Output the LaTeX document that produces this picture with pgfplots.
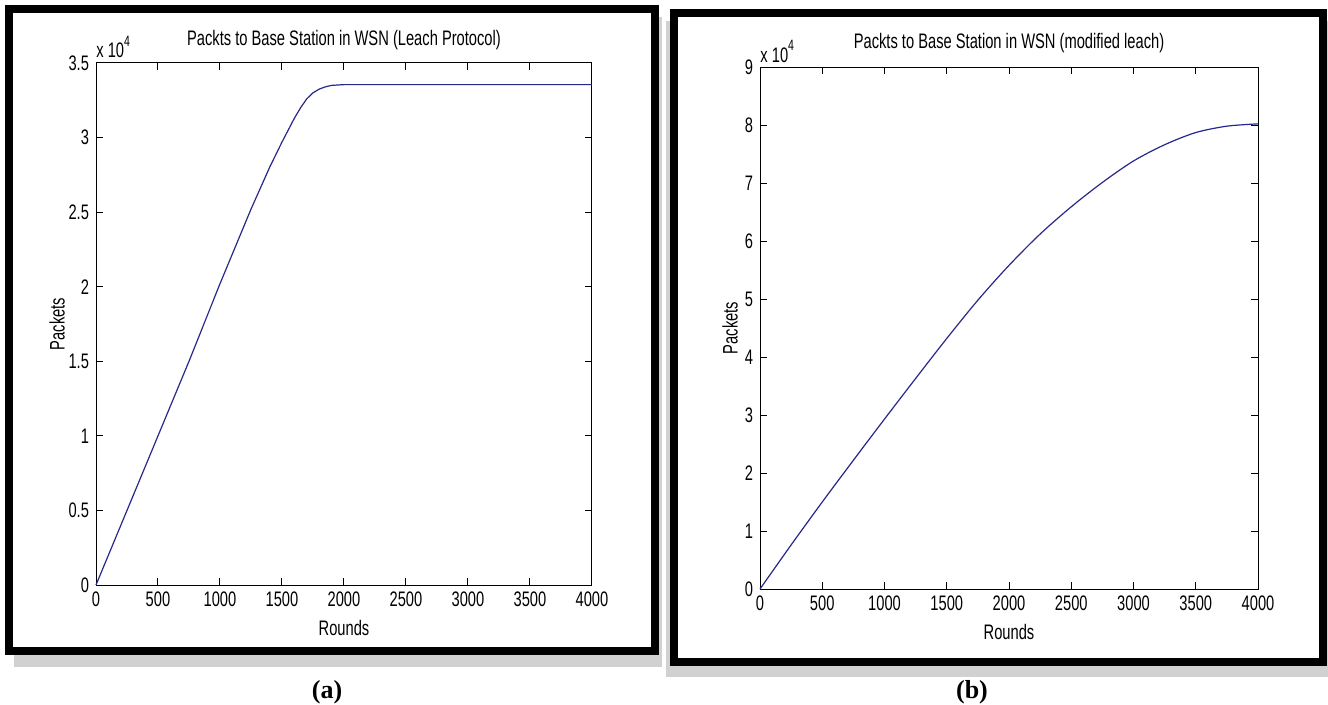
\documentclass[border=0pt]{standalone}
\usepackage{pgfplots}
\pgfplotsset{compat=1.18}
\usepackage{fontspec}
\setmainfont{Liberation Sans}
\newfontfamily\mfont[FakeStretch=0.7]{Liberation Sans}
\newfontfamily\tfont{Liberation Serif}
\definecolor{lineblue}{RGB}{40,40,140}
\pgfplotstableread{
r p
0 0
250 5000
500 10000
750 15000
1000 20200
1250 25200
1400 28000
1500 29700
1550 30500
1600 31300
1650 32000
1700 32600
1750 33000
1800 33250
1850 33400
1900 33500
2000 33550
4000 33550
}\leach
\pgfplotstableread{
r p
0 0
250 7600
500 15000
750 22200
1000 29300
1250 36300
1500 43200
1750 49800
2000 55800
2250 61200
2500 65900
2750 70100
3000 73800
3250 76600
3500 78700
3750 79800
4000 80200
}\modleach
\newcommand{\mf}{\mfont\fontsize{10.5bp}{12bp}\selectfont}
\pgfplotsset{mine/.style={
  scale only axis, clip=false,
  xmin=0, xmax=4000,
  xtick={0,500,1000,1500,2000,2500,3000,3500,4000},
  xticklabels={0,500,1000,1500,2000,2500,3000,3500,4000},
  tick align=inside, major tick length=3.5bp,
  tick style={black, line width=0.5bp},
  axis line style={black, line width=0.5bp},
  tick label style={font=\mf},
  scaled y ticks=false,
}}
\begin{document}
\begin{tikzpicture}
\path[use as bounding box] (0,0) rectangle (664bp,352.5bp);
\fill[white] (0,0) rectangle (664bp,352.5bp);
% shadows
\fill[black!18] (7bp,19bp) rectangle (331bp,344bp);
\fill[black!18] (333bp,14bp) rectangle (664bp,342bp);
\fill[white] (4.5bp,27bp) rectangle (327.5bp,348bp);
\fill[white] (337bp,21.25bp) rectangle (661.25bp,346bp);
\draw[line width=4bp] (4.5bp,27bp) rectangle (327.5bp,348bp);
\draw[line width=4bp] (337bp,21.25bp) rectangle (661.25bp,346bp);

\begin{axis}[mine, at={(48bp,60bp)}, anchor=south west, width=248bp, height=261bp,
  ymin=0, ymax=35000,
  ytick={0,5000,10000,15000,20000,25000,30000,35000},
  yticklabels={0,0.5,1,1.5,2,2.5,3,3.5}]
\addplot[lineblue, line width=0.6bp] table[x=r,y=p] {\leach};
\node[font=\mf] at (rel axis cs:0.5,1) [yshift=11.5bp] {Packts to Base Station in WSN (Leach Protocol)};
\node[font=\mf] at (rel axis cs:0.5,0) [yshift=-21.5bp] {Rounds};
\node[font=\mf, xshift=-19.5bp, rotate=90] at (rel axis cs:0,0.5) {Packets};
\node[font=\mf, anchor=base west, inner sep=0pt] at (rel axis cs:0,1) [yshift=2.5bp] {x 10\raisebox{0.55em}{\mfont\fontsize{7.5bp}{8bp}\selectfont 4}};
\end{axis}

\begin{axis}[mine, at={(380bp,58bp)}, anchor=south west, width=249bp, height=261bp,
  ymin=0, ymax=90000,
  ytick={0,10000,20000,30000,40000,50000,60000,70000,80000,90000},
  yticklabels={0,1,2,3,4,5,6,7,8,9}]
\addplot[lineblue, line width=0.6bp, smooth] table[x=r,y=p] {\modleach};
\node[font=\mf] at (rel axis cs:0.5,1) [yshift=12bp] {Packts to Base Station in WSN (modified leach)};
\node[font=\mf] at (rel axis cs:0.5,0) [yshift=-21.5bp] {Rounds};
\node[font=\mf, xshift=-15bp, rotate=90] at (rel axis cs:0,0.5) {Packets};
\node[font=\mf, anchor=base west, inner sep=0pt] at (rel axis cs:0,1) [yshift=2.5bp] {x 10\raisebox{0.55em}{\mfont\fontsize{7.5bp}{8bp}\selectfont 4}};
\end{axis}

\node[font=\tfont\bfseries\fontsize{13bp}{15bp}\selectfont] at (163.5bp,6.5bp) {(a)};
\node[font=\tfont\bfseries\fontsize{13bp}{15bp}\selectfont] at (486bp,6.5bp) {(b)};
\end{tikzpicture}
\end{document}
